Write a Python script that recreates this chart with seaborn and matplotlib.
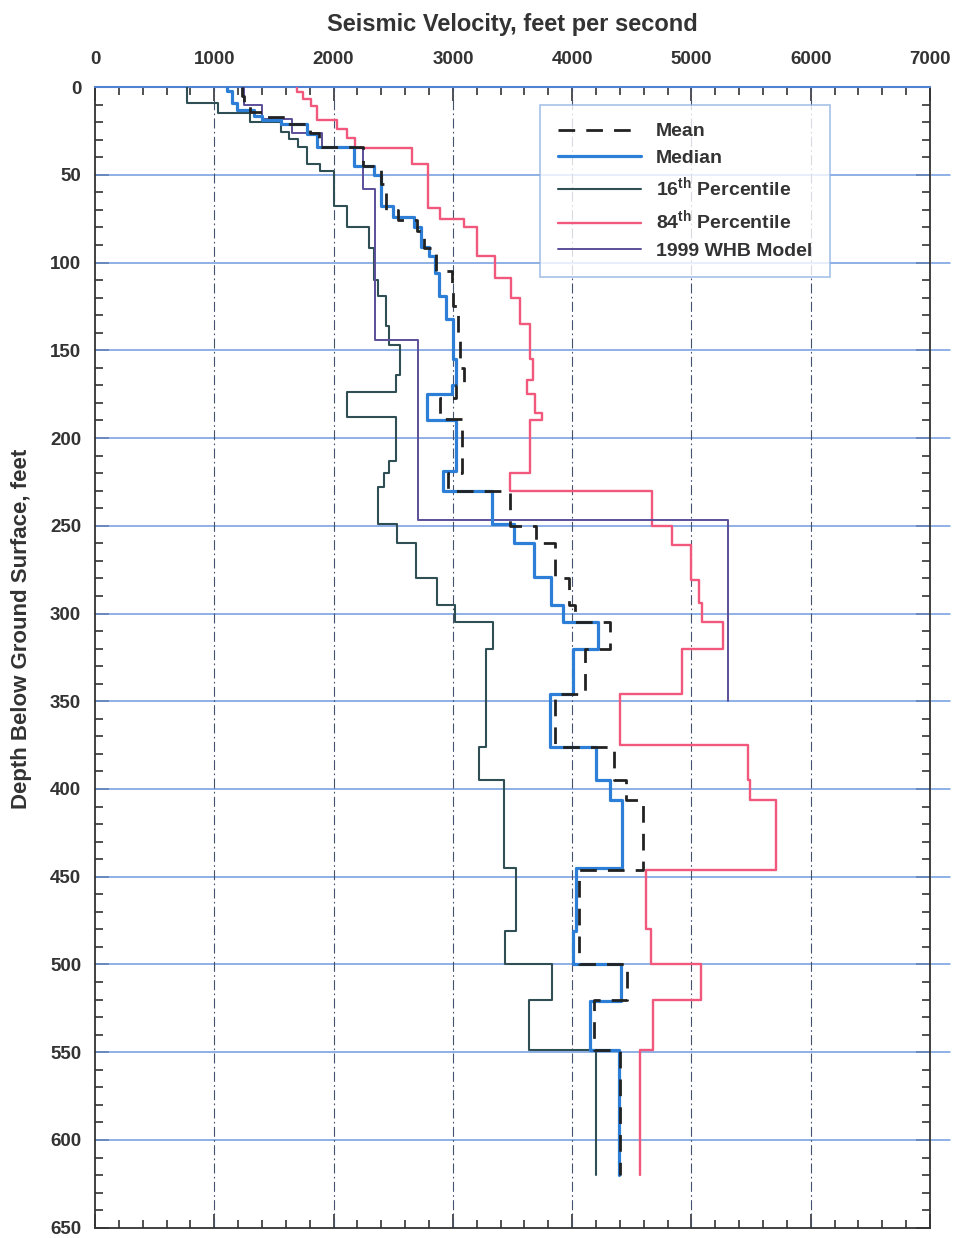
import numpy as np
import matplotlib
matplotlib.use("Agg")
import matplotlib.pyplot as plt
import seaborn as sns
from matplotlib.lines import Line2D
from matplotlib.ticker import MultipleLocator

# ----------------------------- DATA -----------------------------
# each profile: top depth of every layer (ft) and the layer velocity (ft/s)
BOTTOM = 620

MEAN_TOP = [0, 5, 10, 14, 17, 21, 26, 34, 45, 55, 70, 76, 82, 92, 105, 115, 125, 145,
            160, 170, 177, 189, 220, 230, 250, 260, 280, 295, 305, 320, 346, 376, 395,
            406, 446, 500, 520, 549]
MEAN_VEL = [1230, 1250, 1300, 1420, 1620, 1800, 1880, 2250, 2400, 2440, 2540, 2700, 2760,
            2860, 2990, 3000, 3040, 3060, 3090, 3030, 2890, 3080, 2960, 3480, 3700, 3860,
            3975, 4020, 4320, 4110, 3860, 4350, 4450, 4590, 4060, 4460, 4180, 4400]

MEDIAN_TOP = [0, 2, 9.3, 13, 16.3, 19, 21, 26.6, 34, 45, 50, 68, 74, 79.5, 91, 96, 106,
              119, 132, 155, 170, 175, 189.5, 219, 230, 249, 260, 279, 295, 305, 320, 346,
              376, 395, 406, 445, 481, 500, 521, 549]
MEDIAN_VEL = [1110, 1150, 1190, 1330, 1400, 1555, 1780, 1865, 2170, 2340, 2400, 2495, 2675,
              2730, 2800, 2850, 2880, 2940, 3000, 3030, 2990, 2780, 3030, 2920, 3325, 3510,
              3680, 3820, 3920, 4215, 4005, 3810, 4200, 4315, 4420, 4035, 4005, 4410, 4150,
              4395]

P16_TOP = [0, 9.3, 15, 19.7, 25.4, 29.6, 34, 44, 48, 68, 79.5, 92, 110, 119, 136, 147, 164,
           174, 188, 213, 220, 228, 249, 260, 280, 295, 305, 320, 376, 395, 445, 481, 500,
           520, 549]
P16_VEL = [770, 1035, 1300, 1555, 1625, 1705, 1780, 1890, 2000, 2115, 2300, 2340, 2370,
           2440, 2465, 2560, 2520, 2115, 2520, 2465, 2425, 2370, 2530, 2690, 2870, 3015,
           3340, 3280, 3220, 3425, 3530, 3435, 3830, 3640, 4200]

P84_TOP = [0, 3, 7, 11, 19, 24, 29, 35, 44, 69, 75, 80, 96, 109, 120, 135, 155, 167, 175,
           186, 190, 220, 230, 250, 261, 281, 294, 305, 320, 346, 375, 395, 406, 446, 480,
           500, 520, 549]
P84_VEL = [1690, 1740, 1810, 1860, 2025, 2110, 2180, 2655, 2795, 2895, 3090, 3200, 3350,
           3490, 3560, 3650, 3675, 3620, 3690, 3745, 3650, 3480, 4665, 4840, 4995, 5060,
           5090, 5265, 4920, 4400, 5470, 5490, 5710, 4620, 4660, 5080, 4680, 4570]

WHB_TOP = [0, 10, 18, 26, 35, 58, 144, 247]
WHB_VEL = [1250, 1400, 1650, 1900, 2250, 2350, 2710, 5310]
WHB_BOTTOM = 350

LABELS = ["Mean", "Median", "16$^{\\rm th}$ Percentile", "84$^{\\rm th}$ Percentile",
          "1999 WHB Model"]


def steps(tops, vels, bottom):
    # turn layer tops / velocities into a stepped depth profile
    edges = list(tops[1:]) + [bottom]
    xs, ys = [], []
    for t, b, v in zip(tops, edges, vels):
        xs += [v, v]
        ys += [t, b]
    return np.array(xs, float), np.array(ys, float)


# ----------------------------- STYLE -----------------------------
sns.set_style("white")
plt.rcParams["font.family"] = ["Liberation Sans", "DejaVu Sans"]
plt.rcParams["font.weight"] = "bold"
plt.rcParams["mathtext.fontset"] = "custom"
plt.rcParams["mathtext.rm"] = "Liberation Sans:bold"
plt.rcParams["mathtext.bf"] = "Liberation Sans:bold"
TXT = "#333333"

fig = plt.figure(figsize=(9.54, 12.38), dpi=100)
ax = fig.add_axes([0.0996, 0.0083, 0.8753, 0.9214])

# grid
for d in range(50, 650, 50):
    ax.axhline(d, xmin=0, xmax=1.024, color="#6f9be0", lw=1.1, clip_on=False, zorder=1)
for v in range(1000, 7000, 1000):
    ax.axvline(v, color="#44526e", lw=0.8, dashes=(9, 3, 1.5, 3), zorder=1)

series = [
    (P84_TOP, P84_VEL, BOTTOM, "#f2587c", 1.7),
    (P16_TOP, P16_VEL, BOTTOM, "#2f4f55", 1.5),
    (WHB_TOP, WHB_VEL, WHB_BOTTOM, "#5b4f9a", 1.4),
    (MEDIAN_TOP, MEDIAN_VEL, BOTTOM, "#2c7ed6", 2.3),
    (MEAN_TOP, MEAN_VEL, BOTTOM, "#222222", 2.0),
]
for tops, vels, bot, col, lw in series:
    xs, ys = steps(tops, vels, bot)
    sns.lineplot(x=xs, y=ys, sort=False, estimator=None, color=col, lw=lw, ax=ax, zorder=3)
ax.lines[-1].set_dashes([6, 4])

ax.set_xlim(0, 7000)
ax.set_ylim(650, 0)
ax.xaxis.set_major_locator(MultipleLocator(1000))
ax.xaxis.set_minor_locator(MultipleLocator(200))
ax.yaxis.set_major_locator(MultipleLocator(50))
ax.yaxis.set_minor_locator(MultipleLocator(10))
ax.tick_params(which="both", direction="in", top=True, bottom=True, left=True, right=True,
               labeltop=True, labelbottom=False, colors="#333333", width=1.2)
ax.tick_params(which="major", length=10, labelsize=13.5)
ax.tick_params(which="minor", length=6)
ax.tick_params(axis="x", which="major", pad=14)
ax.tick_params(axis="y", which="major", pad=10)
for lab in ax.get_xticklabels() + ax.get_yticklabels():
    lab.set_fontweight("bold")
    lab.set_color(TXT)

ax.xaxis.set_label_position("top")
ax.set_xlabel("Seismic Velocity, feet per second", fontsize=17, fontweight="bold",
              color=TXT, labelpad=14)
ax.set_ylabel("Depth Below Ground Surface, feet", fontsize=16, fontweight="bold", color=TXT)
ax.yaxis.set_label_coords(-0.075, 0.525)

for side in ["left", "bottom", "right"]:
    ax.spines[side].set_color("#333333")
    ax.spines[side].set_linewidth(1.3)
ax.spines["top"].set_color("#4f82d0")
ax.spines["top"].set_linewidth(1.5)

handles = [
    Line2D([], [], color="#222222", lw=2.0, dashes=[6, 4]),
    Line2D([], [], color="#2c7ed6", lw=2.3),
    Line2D([], [], color="#2f4f55", lw=1.5),
    Line2D([], [], color="#f2587c", lw=1.7),
    Line2D([], [], color="#5b4f9a", lw=1.4),
]
leg = ax.legend(handles, LABELS, loc="upper left", bbox_to_anchor=(0.533, 0.984),
                frameon=True, fancybox=False, fontsize=14, handlelength=4.3,
                labelspacing=0.45, borderpad=0.9, handletextpad=0.75, borderaxespad=0)
leg.get_frame().set_edgecolor("#8fb2e2")
leg.get_frame().set_linewidth(1.2)
for t in leg.get_texts():
    t.set_color(TXT)
    t.set_fontweight("bold")

fig.savefig("out.png", dpi=100)
